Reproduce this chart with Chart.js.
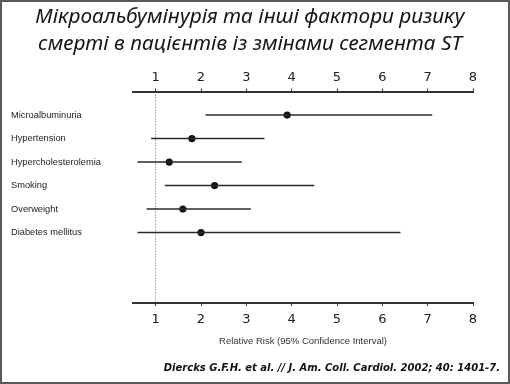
<!DOCTYPE html>
<html>
<head>
<meta charset="utf-8">
<script src="https://cdn.jsdelivr.net/npm/chart.js@4/dist/chart.umd.min.js"></script>
<style>
  html, body { margin: 0; padding: 0; background: #fff; }
  #wrap { position: relative; width: 510px; height: 384px; }
  #frame { position: absolute; left: 0; top: 0; width: 510px; height: 384px; box-sizing: border-box;
           border: 2px solid #5a5a5a; pointer-events: none; }
</style>
</head>
<body>
<div id="wrap">
  <canvas id="c" width="510" height="384"></canvas>
  <div id="frame"></div>
</div>
<script>
const titleLines = ["Мікроальбумінурія та інші фактори ризику", "смерті в пацієнтів із змінами сегмента ST"];
const categories = ["Microalbuminuria", "Hypertension", "Hypercholesterolemia", "Smoking", "Overweight", "Diabetes mellitus"];
const relativeRisk = [3.9, 1.8, 1.3, 2.3, 1.6, 2.0];
const ciLow = [2.1, 0.9, 0.6, 1.2, 0.8, 0.6];
const ciHigh = [7.1, 3.4, 2.9, 4.5, 3.1, 6.4];
const xTickValues = [1, 2, 3, 4, 5, 6, 7, 8];
const axisTitle = "Relative Risk (95% Confidence Interval)";
const citation = "Diercks G.F.H. et al. // J. Am. Coll. Cardiol. 2002; 40: 1401-7.";

const datasets = [];
categories.forEach((c, i) => {
  datasets.push({
    label: c + " CI",
    data: [{x: ciLow[i], y: i + 1}, {x: ciHigh[i], y: i + 1}],
    showLine: true,
    borderColor: '#2a2a2a',
    borderWidth: 1.6,
    pointRadius: 0,
    xAxisID: 'x', yAxisID: 'y'
  });
});
datasets.push({
  label: 'RR',
  data: relativeRisk.map((v, i) => ({x: v, y: i + 1})),
  pointRadius: 3.6,
  pointBackgroundColor: '#111',
  pointBorderColor: '#111',
  pointBorderWidth: 0,
  xAxisID: 'x', yAxisID: 'y'
});

const setTicks = (s) => { s.ticks = xTickValues.map(v => ({value: v})); };

new Chart(document.getElementById('c'), {
  type: 'scatter',
  data: { datasets },
  options: {
    responsive: false,
    animation: false,
    layout: { padding: { left: 0, right: 10, top: 0, bottom: 0 } },
    plugins: {
      legend: { display: false },
      tooltip: { enabled: false },
      title: {
        display: true,
        text: titleLines,
        color: '#151515',
        font: { family: 'Noto Sans', size: 20.8, style: 'italic', weight: 'normal', lineHeight: 1.3 },
        padding: { top: 3.5, bottom: 0 }
      },
      subtitle: {
        display: true,
        position: 'bottom',
        align: 'end',
        text: citation,
        color: '#111',
        font: { family: 'DejaVu Sans', size: 10, style: 'italic', weight: 'bold', lineHeight: 1.2 },
        padding: { top: 10, bottom: 10 }
      }
    },
    scales: {
      x: {
        type: 'linear', position: 'bottom', min: 0.5, max: 8,
        afterBuildTicks: setTicks,
        afterFit: (s) => { s.height = 49; },
        border: { display: true, color: '#333', width: 2, dash: [1, 2] },
        grid: {
          drawOnChartArea: true,
          color: (ctx) => (ctx.tick && ctx.tick.value === 1) ? '#666' : 'transparent',
          lineWidth: 1,
          tickColor: '#333',
          tickLength: 3
        },
        ticks: { color: '#222', font: { family: 'DejaVu Sans', size: 13 }, padding: 6, maxRotation: 0 },
        title: { display: true, text: axisTitle, color: '#333',
                 font: { family: 'Liberation Sans', size: 9.5 }, padding: { top: 4, bottom: 5 } }
      },
      x2: {
        type: 'linear', position: 'top', min: 0.5, max: 8,
        afterBuildTicks: setTicks,
        afterFit: (s) => { s.height = 34; },
        border: { display: true, color: '#333', width: 2 },
        grid: { drawOnChartArea: false, tickColor: '#333', tickLength: 3 },
        ticks: { color: '#222', font: { family: 'DejaVu Sans', size: 13 }, padding: 3, maxRotation: 0 }
      },
      y: {
        type: 'linear', position: 'left', min: 0, max: 9, reverse: true, weight: 0,
        afterBuildTicks: (s) => { s.ticks = categories.map((c, i) => ({value: i + 1})); },
        afterFit: (s) => { s.width = 122; },
        border: { display: false },
        grid: { display: false },
        ticks: {
          autoSkip: false,
          crossAlign: 'far',
          color: '#222',
          font: { family: 'Liberation Sans', size: 9.3 },
          callback: (v) => categories[v - 1] || ''
        }
      },
      yLeftPad: {
        type: 'linear', position: 'left', min: 0, max: 9, weight: 5,
        afterFit: (s) => { s.width = 11; },
        border: { display: false },
        grid: { display: false },
        ticks: { display: false }
      },
      yPad: {
        type: 'linear', position: 'right', min: 0, max: 9,
        afterFit: (s) => { s.width = 27; },
        border: { display: false },
        grid: { display: false },
        ticks: { display: false }
      }
    }
  }
});
</script>
</body>
</html>
